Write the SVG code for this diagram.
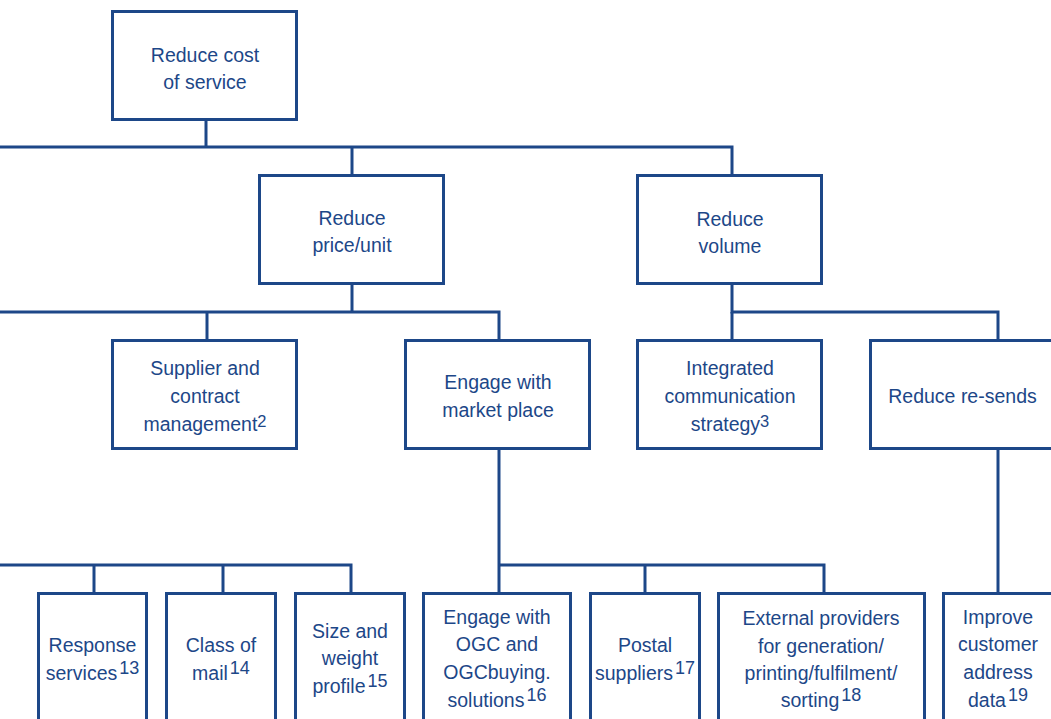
<svg xmlns="http://www.w3.org/2000/svg" width="1051" height="719" viewBox="0 0 1051 719">
<style>
rect.box{fill:#ffffff;stroke:#1d4788;stroke-width:3}
.conn polyline,.conn line{fill:none;stroke:#1d4788;stroke-width:3;stroke-linecap:butt;stroke-linejoin:miter}
text{font-family:"Liberation Sans",Arial,sans-serif;font-size:19.5px;fill:#1d4788;text-anchor:middle}
tspan.sup{font-size:16.5px}
tspan.supb{font-size:18px}
</style>
<rect width="1051" height="719" fill="#ffffff"/>
<g class="conn" id="connectors">
<line x1="206" y1="121" x2="206" y2="147"/>
<polyline points="0,147 732,147 732,174"/>
<line x1="352" y1="147" x2="352" y2="174"/>
<line x1="352" y1="285" x2="352" y2="312"/>
<polyline points="0,312 499,312 499,339"/>
<line x1="207" y1="312" x2="207" y2="339"/>
<polyline points="732,285 732,312 998,312 998,339"/>
<line x1="732" y1="312" x2="732" y2="339"/>
<polyline points="0,565 351,565 351,592"/>
<line x1="94" y1="565" x2="94" y2="592"/>
<line x1="223" y1="565" x2="223" y2="592"/>
<polyline points="499,450 499,592"/>
<polyline points="499,565 824,565 824,592"/>
<line x1="645" y1="565" x2="645" y2="592"/>
<line x1="998" y1="450" x2="998" y2="592"/>
</g>
<g id="n-reduce-cost">
<rect class="box" x="112.5" y="11.5" width="184" height="108"/>
<text x="205" y="62">Reduce cost</text>
<text x="205" y="89">of service</text>
</g>
<g id="n-price-unit">
<rect class="box" x="259.5" y="175.5" width="184" height="108"/>
<text x="352" y="225">Reduce</text>
<text x="352" y="252">price/unit</text>
</g>
<g id="n-volume">
<rect class="box" x="637.5" y="175.5" width="184" height="108"/>
<text x="730" y="225.5">Reduce</text>
<text x="730" y="252.5">volume</text>
</g>
<g id="n-supplier">
<rect class="box" x="112.5" y="340.5" width="184" height="108"/>
<text x="205" y="375">Supplier and</text>
<text x="205" y="403">contract</text>
<text x="205" y="431">management<tspan class="sup" dy="-4">2</tspan></text>
</g>
<g id="n-market">
<rect class="box" x="405.5" y="340.5" width="184" height="108"/>
<text x="498" y="389">Engage with</text>
<text x="498" y="417">market place</text>
</g>
<g id="n-integrated">
<rect class="box" x="637.5" y="340.5" width="184" height="108"/>
<text x="730" y="375">Integrated</text>
<text x="730" y="403">communication</text>
<text x="730" y="431">strategy<tspan class="sup" dy="-4">3</tspan></text>
</g>
<g id="n-resends">
<rect class="box" x="870.5" y="340.5" width="184" height="108"/>
<text x="962.5" y="403">Reduce re-sends</text>
</g>
<g id="n-response">
<rect class="box" x="38.5" y="593.5" width="108" height="140"/>
<text x="92.5" y="652">Response</text>
<text x="92.5" y="680">services<tspan class="supb" dx="2" dy="-6">13</tspan></text>
</g>
<g id="n-class">
<rect class="box" x="166.5" y="593.5" width="109" height="140"/>
<text x="221" y="652">Class of</text>
<text x="221" y="680">mail<tspan class="supb" dx="2" dy="-6">14</tspan></text>
</g>
<g id="n-size">
<rect class="box" x="295.5" y="593.5" width="109" height="140"/>
<text x="350" y="637.5">Size and</text>
<text x="350" y="665">weight</text>
<text x="350" y="692.5">profile<tspan class="supb" dx="2" dy="-6">15</tspan></text>
</g>
<g id="n-ogc">
<rect class="box" x="423.5" y="593.5" width="147" height="140"/>
<text x="497" y="623.5">Engage with</text>
<text x="497" y="651">OGC and</text>
<text x="497" y="679">OGCbuying.</text>
<text x="497" y="706.5">solutions<tspan class="supb" dx="2" dy="-6">16</tspan></text>
</g>
<g id="n-postal">
<rect class="box" x="590.5" y="593.5" width="109" height="140"/>
<text x="645" y="652">Postal</text>
<text x="645" y="680">suppliers<tspan class="supb" dx="2" dy="-6">17</tspan></text>
</g>
<g id="n-external">
<rect class="box" x="718.5" y="593.5" width="206" height="140"/>
<text x="821" y="625">External providers</text>
<text x="821" y="652.5">for generation/</text>
<text x="821" y="680">printing/fulfilment/</text>
<text x="821" y="706.5">sorting<tspan class="supb" dx="2" dy="-6">18</tspan></text>
</g>
<g id="n-improve">
<rect class="box" x="943.5" y="593.5" width="109" height="140"/>
<text x="998" y="623.5">Improve</text>
<text x="998" y="651">customer</text>
<text x="998" y="679">address</text>
<text x="998" y="706.5">data<tspan class="supb" dx="2" dy="-6">19</tspan></text>
</g>
</svg>
